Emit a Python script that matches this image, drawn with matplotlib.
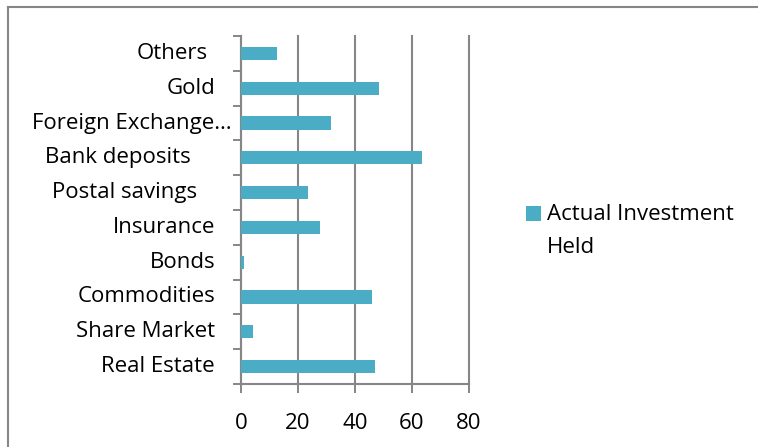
import matplotlib.pyplot as plt
from matplotlib.lines import Line2D
from matplotlib.patches import Rectangle
from matplotlib.legend_handler import HandlerPatch

# investment categories, bottom to top
categories = ["Real Estate", "Share Market", "Commodities", "Bonds", "Insurance",
              "Postal savings", "Bank deposits", "Foreign Exchange\u2026", "Gold", "Others"]
actual_held = [46.9, 4.2, 46.0, 0.9, 27.7, 23.4, 63.5, 31.7, 48.4, 12.5]
x_ticks = [0, 20, 40, 60, 80]
series_name = "Actual Investment\nHeld"

# how far each category label sits left of the axis, in pixels
label_offsets = [26, 26, 26, 26, 26, 44, 50, 9, 26, 33]

BAR = "#4BACC6"
GRID = "#868686"
FONT = "Open Sans"
FS = 16

plt.rcParams["font.family"] = [FONT, "DejaVu Sans"]

W, H = 758, 447
fig = plt.figure(figsize=(W / 100, H / 100), dpi=100)
ax = fig.add_axes([241 / W, 1 - 384 / H, 228 / W, 348 / H])

ypos = list(range(len(categories)))
bars = ax.barh(ypos, actual_held, height=0.38, color=BAR, label=series_name, zorder=3)

ax.set_xlim(0, 80)
ax.set_ylim(-0.5, len(categories) - 0.5)
ax.set_xticks(x_ticks)
ax.set_xticklabels([str(t) for t in x_ticks], fontsize=FS)
ax.tick_params(axis="x", length=6.5, width=1.4, color=GRID, pad=14.5)

# category ticks sit on the boundaries between bars
ax.set_yticks([y - 0.5 for y in ypos] + [len(categories) - 0.5])
ax.set_yticklabels([])
ax.tick_params(axis="y", length=5.5, width=1.4, color=GRID)

for i, (name, off) in enumerate(zip(categories, label_offsets)):
    ax.annotate(name, xy=(0, i), xycoords=("axes fraction", "data"),
                xytext=(-off, 0), textcoords="offset pixels",
                ha="right", va="center", fontsize=FS)

ax.grid(axis="x", color=GRID, linewidth=1.5, zorder=0, clip_on=False)
for side in ["top", "right"]:
    ax.spines[side].set_visible(False)
for side in ["left", "bottom"]:
    ax.spines[side].set_color(GRID)
    ax.spines[side].set_linewidth(1.5)


def top_square(legend, orig_handle, xdescent, ydescent, width, height, fontsize):
    # square sits level with the first line of the label
    side = width * 1.05
    return Rectangle((-xdescent, -ydescent + height - side + 3.6), side, side)


handle = bars.patches[0]
leg = fig.legend(handles=[handle], labels=[series_name], loc="upper left",
                 bbox_to_anchor=(526 / W, 1 - 204 / H), frameon=False,
                 fontsize=FS, handlelength=0.65, handleheight=2.6,
                 handletextpad=0.3, borderaxespad=0, borderpad=0,
                 handler_map={handle: HandlerPatch(patch_func=top_square)})
for t in leg.get_texts():
    t.set_linespacing(1.75)

# chart area border
fig.add_artist(Line2D([8 / W, 8 / W], [1 - 7 / H, -0.01], color=GRID, linewidth=1.5,
                      transform=fig.transFigure))
fig.add_artist(Line2D([8 / W, 1.01], [1 - 7 / H, 1 - 7 / H], color=GRID, linewidth=1.5,
                      transform=fig.transFigure))

fig.savefig("out.png", dpi=100)
